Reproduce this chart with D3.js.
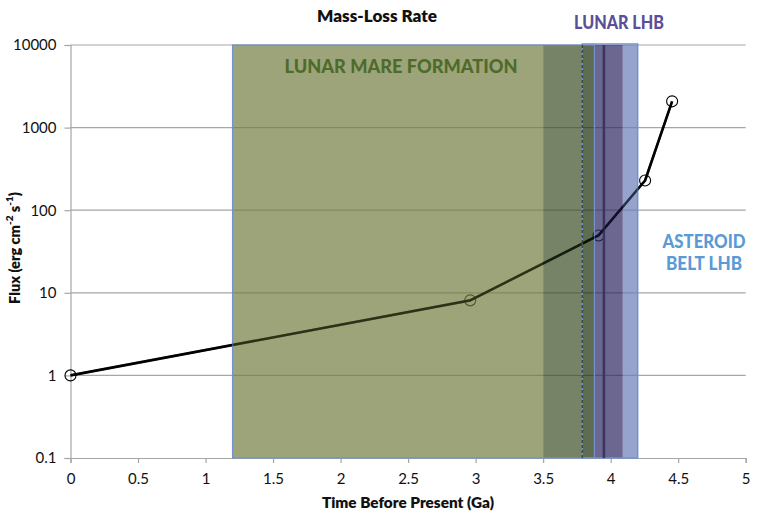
<!DOCTYPE html>
<html><head><meta charset="utf-8">
<script src="https://cdn.jsdelivr.net/npm/d3@7"></script>
<style>body{margin:0;background:#fff}svg{display:block}text{font-family:Lato,"Open Sans",sans-serif}</style>
</head><body>
<script>
// Data
const times = [0, 2.96, 3.91, 4.255, 4.455];
const flux = [1, 8.1, 49.5, 229, 2080];
const xTicks = [0, 0.5, 1, 1.5, 2, 2.5, 3, 3.5, 4, 4.5, 5];
const yTicks = [0.1, 1, 10, 100, 1000, 10000];
const yTickLabels = ["0.1", "1", "10", "100", "1000", "10000"];
const bandStart = [1.2, 3.5, 3.79, 3.88, 4.09];
const bandEnd = [3.5, 3.79, 3.88, 4.09, 4.2];
const bandColor = ["#737e42", "#3d4e27", "#192d08", "#2c2662", "#697eb8"];
const markerLines = [3.79, 3.95];

const W = 759, H = 513;
const m = {left: 70.5, right: W - 745.7, top: 45, bottom: H - 458};
const svg = d3.select("body").append("svg").attr("width", W).attr("height", H);
const x = d3.scaleLinear().domain([0, 5]).range([m.left, W - m.right]);
const y = d3.scaleLog().domain([0.1, 10000]).range([H - m.bottom, m.top]);

// gridlines
svg.append("g").selectAll("line").data(yTicks.slice(1)).join("line")
  .attr("x1", x(0)).attr("x2", x(5)).attr("y1", d => y(d)).attr("y2", d => y(d))
  .attr("stroke", "#a6a6a6").attr("stroke-width", 1.2);

// axes
const xAxis = svg.append("g").attr("transform", `translate(0,${y(0.1)})`)
  .call(d3.axisBottom(x).tickValues(xTicks).tickFormat(d3.format("")).tickSize(5).tickPadding(10));
const yAxis = svg.append("g").attr("transform", `translate(${x(0)},0)`)
  .call(d3.axisLeft(y).tickValues(yTicks).tickFormat((d, i) => yTickLabels[i]).tickSize(6).tickPadding(8));
[xAxis, yAxis].forEach(a => {
  a.select(".domain").attr("stroke", "#a6a6a6").attr("stroke-width", 1.2);
  a.selectAll(".tick line").attr("stroke", "#a6a6a6").attr("stroke-width", 1.2);
  a.selectAll("text").attr("font-size", 15).attr("fill", "#111").style("font-family", "Lato, sans-serif");
});

// data line
const line = d3.line().x((d, i) => x(times[i])).y(d => y(d));
svg.append("path").attr("d", line(flux)).attr("fill", "none")
  .attr("stroke", "#000").attr("stroke-width", 2.6).attr("stroke-linejoin", "round");
svg.append("g").selectAll("circle").data(flux).join("circle")
  .attr("cx", (d, i) => x(times[i])).attr("cy", d => y(d)).attr("r", 5.5)
  .attr("fill", "none").attr("stroke", "#000").attr("stroke-width", 1.1);

// shaded bands (translucent over line)
svg.append("g").selectAll("rect").data(bandStart).join("rect")
  .attr("x", d => x(d)).attr("width", (d, i) => x(bandEnd[i]) - x(d))
  .attr("y", y(10000)).attr("height", y(0.1) - y(10000))
  .attr("fill", (d, i) => bandColor[i]).attr("fill-opacity", 0.7);
// outlines
svg.append("rect").attr("x", x(1.2)).attr("y", y(10000)).attr("width", x(3.88) - x(1.2))
  .attr("height", y(0.1) - y(10000)).attr("fill", "none").attr("stroke", "#7391cc").attr("stroke-width", 1.2);
svg.append("rect").attr("x", x(3.79)).attr("y", y(10000) - 1).attr("width", x(4.2) - x(3.79))
  .attr("height", y(0.1) - y(10000) + 1).attr("fill", "none").attr("stroke", "#7391cc").attr("stroke-width", 1.5);
svg.append("line").attr("x1", x(markerLines[0])).attr("x2", x(markerLines[0]))
  .attr("y1", y(10000)).attr("y2", y(0.1)).attr("stroke", "#3d4a33").attr("stroke-width", 1.5).attr("stroke-dasharray", "3,2");
svg.append("line").attr("x1", x(markerLines[1])).attr("x2", x(markerLines[1]))
  .attr("y1", y(10000)).attr("y2", y(0.1)).attr("stroke", "#3b3660").attr("stroke-width", 2.5);

// faint overlay of line so it reads darker through the bands
svg.append("path").attr("d", line(flux)).attr("fill", "none")
  .attr("stroke", "#000").attr("stroke-opacity", 0.45).attr("stroke-width", 2.4).attr("stroke-linejoin", "round");

// labels
function label(txt, cx, cy, size, color, len, wt) {
  svg.append("text").attr("x", cx).attr("y", cy).attr("text-anchor", "middle")
    .attr("dominant-baseline", "central").attr("font-size", size).attr("font-weight", wt || 900)
    .attr("fill", color).attr("textLength", len).attr("lengthAdjust", "spacingAndGlyphs").text(txt);
}
label("LUNAR MARE FORMATION", 401, 66, 18, "#4f6b2b", 233);
label("LUNAR LHB", 619, 22, 18, "#5c4f9a", 90);
label("ASTEROID", 704, 241, 18, "#5b9bd5", 83);
label("BELT LHB", 704, 263, 18, "#5b9bd5", 76);
label("Mass-Loss Rate", 377, 15, 16, "#111", 120, 800);
label("Time Before Present (Ga)", 408, 502, 14.5, "#111", 172, 800);

const yl = svg.append("text").attr("transform", `translate(14,248) rotate(-90)`)
  .attr("text-anchor", "middle").attr("dominant-baseline", "central")
  .attr("font-size", 14.5).attr("font-weight", 800).attr("fill", "#111");
yl.append("tspan").text("Flux (erg cm");
yl.append("tspan").attr("font-size", 10).attr("dy", -5).text("-2");
yl.append("tspan").attr("dy", 5).text(" s");
yl.append("tspan").attr("font-size", 10).attr("dy", -5).text("-1");
yl.append("tspan").attr("dy", 5).text(")");
</script>
</body></html>
